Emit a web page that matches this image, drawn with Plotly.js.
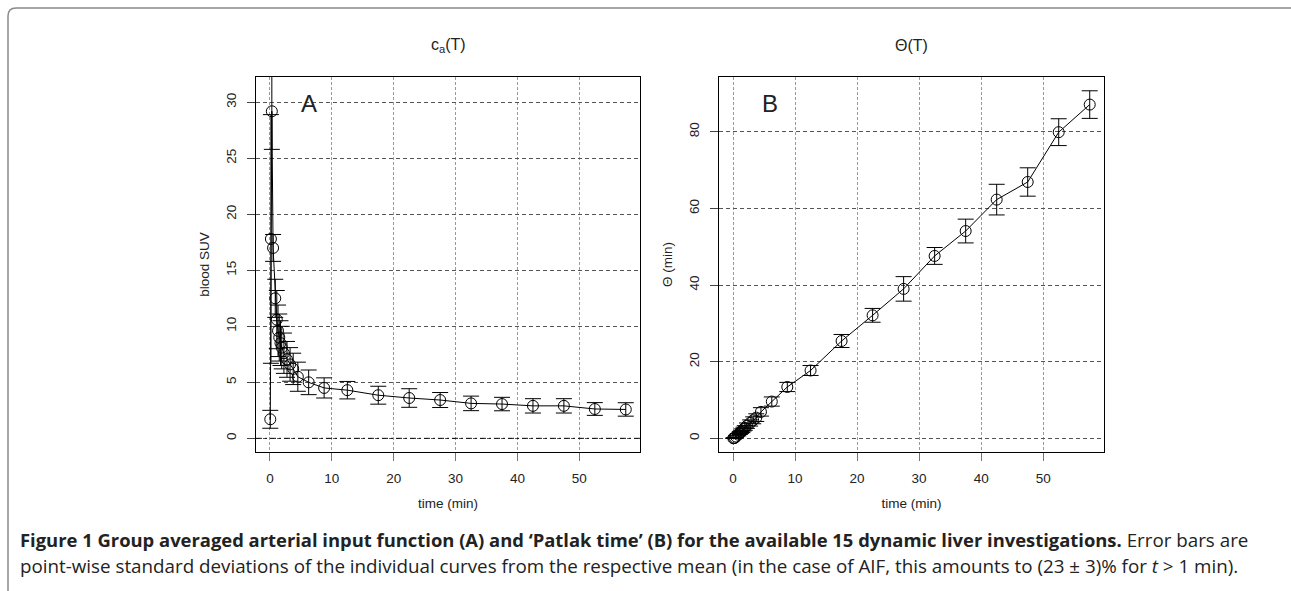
<!DOCTYPE html>
<html>
<head>
<meta charset="utf-8">
<script src="https://cdn.plot.ly/plotly-3.0.1.min.js"></script>
<style>
html,body{margin:0;padding:0;background:#fff;}
#chart{width:1291px;height:591px;}
</style>
</head>
<body>
<div id="chart"></div>
<script>
// ---- data ----
var timeMin = [0.05, 0.15, 0.3, 0.5, 0.85, 1.1, 1.3, 1.5, 1.7, 1.9, 2.25, 2.75, 3.25, 3.75, 4.5, 6.25, 8.75, 12.5, 17.5, 22.5, 27.5, 32.5, 37.5, 42.5, 47.5, 52.5, 57.5];
var bloodSUV = [1.7, 17.8, 29.2, 17.0, 12.5, 10.6, 9.6, 9.0, 8.5, 8.1, 7.6, 7.05, 6.6, 6.2, 5.5, 5.0, 4.5, 4.3, 3.85, 3.6, 3.42, 3.12, 3.06, 2.9, 2.9, 2.62, 2.58];
var bloodSUVsd = [0.8, 11.1, 3.4, 1.2, 1.7, 2.6, 2.3, 2.1, 2.0, 1.9, 1.8, 1.6, 1.5, 1.4, 1.3, 1.1, 0.9, 0.78, 0.8, 0.83, 0.67, 0.65, 0.6, 0.64, 0.64, 0.57, 0.6];
var patlakTime = [0.02, 0.05, 0.15, 0.45, 0.95, 1.4, 1.7, 2.0, 2.4, 2.7, 3.3, 4.0, 4.7, 5.4, 6.9, 9.6, 13.4, 17.7, 25.4, 32.1, 39.0, 47.6, 54.1, 62.3, 66.9, 79.9, 87.1];
var patlakTimeSd = [0.01, 0.1, 0.1, 0.2, 0.3, 0.4, 0.4, 0.5, 0.5, 0.6, 0.7, 0.8, 0.9, 1.0, 1.1, 1.2, 1.2, 1.3, 1.7, 1.8, 3.2, 2.2, 3.1, 4.0, 3.7, 3.5, 3.6];
var xTicks = [0, 10, 20, 30, 40, 50];
var yTicksA = [0, 5, 10, 15, 20, 25, 30];
var yTicksB = [0, 20, 40, 60, 80];
var panelTitles = ['c<sub>a</sub>(T)', '\u0398(T)'];
var panelLetters = ['A', 'B'];
var xTitle = 'time (min)';
var yTitles = ['blood SUV', '\u0398 (min)'];
var captionBold = 'Figure 1 Group averaged arterial input function (A) and \u2018Patlak time\u2019 (B) for the available 15 dynamic liver investigations.';
var captionRest1 = ' Error bars are';
var captionLine2 = 'point-wise standard deviations of the individual curves from the respective mean (in the case of AIF, this amounts to (23 \u00b1 3)% for <i>t</i> &gt; 1 min).';

// ---- layout geometry (pixels -> paper) ----
var W = 1291, H = 591;
var M = {l: 150, r: 150, t: 60, b: 139};
var PW = W - M.l - M.r, PH = H - M.t - M.b;
function px(x) { return (x - M.l) / PW; }
function py(y) { return (H - M.b - y) / PH; }

var FONT = 'Liberation Sans, Arial, Helvetica, sans-serif';
var CAPFONT = 'Open Sans, Noto Sans, sans-serif';

function errBar(arr) {
  return {type: 'data', array: arr, visible: true, color: '#000', thickness: 1, width: 8};
}

var traceA = {
  x: timeMin, y: bloodSUV, xaxis: 'x', yaxis: 'y',
  type: 'scatter', mode: 'lines+markers',
  line: {color: '#000', width: 1},
  marker: {symbol: 'circle-open', size: 11, color: '#000', line: {width: 1, color: '#000'}},
  error_y: errBar(bloodSUVsd),
  cliponaxis: true, showlegend: false
};
var traceB = {
  x: timeMin, y: patlakTime, xaxis: 'x2', yaxis: 'y2',
  type: 'scatter', mode: 'lines+markers',
  line: {color: '#000', width: 1},
  marker: {symbol: 'circle-open', size: 11, color: '#000', line: {width: 1, color: '#000'}},
  error_y: errBar(patlakTimeSd),
  cliponaxis: true, showlegend: false
};

function xAxis(domain, anchor) {
  return {
    domain: domain, anchor: anchor, range: [-2.26, 59.8],
    tickmode: 'array', tickvals: xTicks, ticktext: xTicks.map(String),
    ticks: 'outside', ticklen: 8, tickcolor: '#777', tickwidth: 1,
    ticklabelstandoff: 6,
    showline: true, mirror: true, linecolor: '#000', linewidth: 1,
    showgrid: true, gridcolor: '#9a9a9a', gridwidth: 1, griddash: '3px,2px',
    zeroline: false,
    tickfont: {family: FONT, size: 13.5, color: '#222'},
    title: {text: xTitle, font: {family: FONT, size: 13.5, color: '#222'}, standoff: 13}
  };
}
function yAxis(domain, anchor, range, ticks, title) {
  return {
    domain: domain, anchor: anchor, range: range,
    tickmode: 'array', tickvals: ticks, ticktext: ticks.map(String),
    ticks: 'outside', ticklen: 8, tickcolor: '#444', tickwidth: 1,
    tickangle: -90, ticklabelstandoff: 6,
    showline: true, mirror: true, linecolor: '#000', linewidth: 1,
    showgrid: true, gridcolor: '#555', gridwidth: 1, griddash: '4px,3px',
    zeroline: false,
    tickfont: {family: FONT, size: 13.5, color: '#222'},
    title: {text: title, font: {family: FONT, size: 13.5, color: '#222'}, standoff: 10}
  };
}

var yDom = [py(452), py(77)];
var layout = {
  width: W, height: H,
  margin: M,
  paper_bgcolor: '#fff', plot_bgcolor: '#fff',
  showlegend: false,
  xaxis: xAxis([px(256), px(640)], 'y'),
  yaxis: yAxis(yDom, 'x', [-1.22, 32.26], yTicksA, yTitles[0]),
  xaxis2: xAxis([px(719), px(1104)], 'y2'),
  yaxis2: yAxis(yDom, 'x2', [-3.57, 94.3], yTicksB, yTitles[1]),
  shapes: [
    // zero reference line in panel A (dash-dot)
    {type: 'line', xref: 'x domain', yref: 'y', x0: 0, x1: 1, y0: 0, y1: 0,
     line: {color: '#111', width: 1, dash: '6px,3px,2px,3px'}},
    // figure frame (rounded top-left corner)
    {type: 'path', xref: 'paper', yref: 'paper',
     path: 'M ' + px(8) + ' ' + py(600) + ' L ' + px(8) + ' ' + py(16) +
           ' Q ' + px(8) + ' ' + py(8) + ' ' + px(16) + ' ' + py(8) +
           ' L ' + px(1300) + ' ' + py(8),
     line: {color: '#8a8a8a', width: 1.5}}
  ],
  annotations: [
    {text: panelTitles[0], x: px(448), y: py(46), xref: 'paper', yref: 'paper', showarrow: false,
     xanchor: 'center', yanchor: 'middle', font: {family: FONT, size: 16, color: '#222'}},
    {text: panelTitles[1], x: px(911.5), y: py(46), xref: 'paper', yref: 'paper', showarrow: false,
     xanchor: 'center', yanchor: 'middle', font: {family: FONT, size: 16, color: '#222'}},
    {text: panelLetters[0], x: px(309), y: py(103), xref: 'paper', yref: 'paper', showarrow: false,
     xanchor: 'center', yanchor: 'middle', font: {family: FONT, size: 24, color: '#222'}},
    {text: panelLetters[1], x: px(770), y: py(103), xref: 'paper', yref: 'paper', showarrow: false,
     xanchor: 'center', yanchor: 'middle', font: {family: FONT, size: 24, color: '#222'}},
    {text: '<span style="font-size:18.4px"><b>' + captionBold + '</b></span>' + captionRest1,
     x: px(18), y: py(540), xref: 'paper', yref: 'paper',
     showarrow: false, xanchor: 'left', yanchor: 'middle', align: 'left',
     font: {family: CAPFONT, size: 18.8, color: '#222'}},
    {text: captionLine2, x: px(18), y: py(566), xref: 'paper', yref: 'paper',
     showarrow: false, xanchor: 'left', yanchor: 'middle', align: 'left',
     font: {family: CAPFONT, size: 18.8, color: '#222'}}
  ]
};

Plotly.newPlot('chart', [traceA, traceB], layout, {staticPlot: true, displayModeBar: false});
</script>
</body>
</html>
